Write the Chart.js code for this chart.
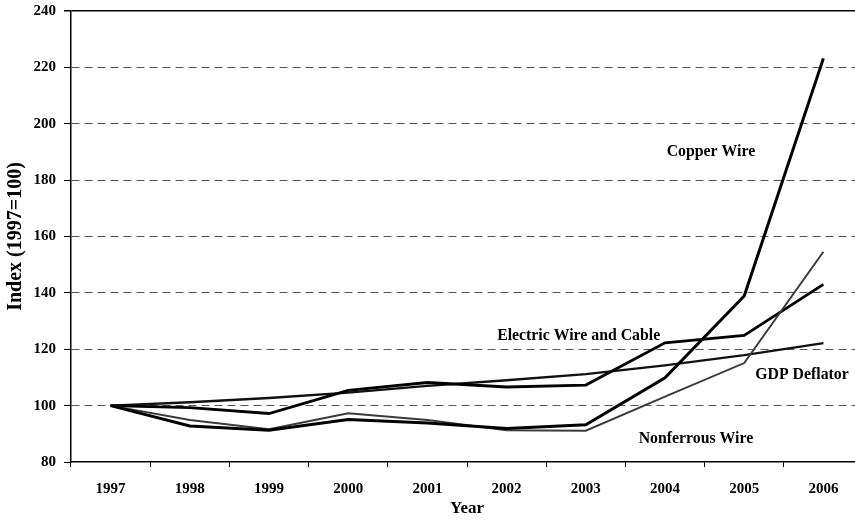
<!DOCTYPE html>
<html>
<head>
<meta charset="utf-8">
<script src="https://cdn.jsdelivr.net/npm/chart.js@4.4.0/dist/chart.umd.min.js"></script>
<style>
  html, body { margin: 0; padding: 0; background: #fff; overflow: hidden; }
  #wrap { position: absolute; left: 0; top: 0; width: 870px; height: 523px; }
</style>
</head>
<body>
<div id="wrap"><canvas id="chart"></canvas></div>
<script>
// Data
const years = ['1997', '1998', '1999', '2000', '2001', '2002', '2003', '2004', '2005', '2006'];
const copperWire = [100, 92.8, 91.3, 95.1, 93.8, 91.9, 93.2, 109.9, 138.9, 223.2];
const nonferrousWire = [100, 94.9, 91.6, 97.3, 94.9, 91.3, 91.1, 103.2, 115.1, 154.6];
const electricWire = [100, 99.3, 97.2, 105.4, 108.2, 106.6, 107.3, 122.3, 124.9, 143.0];
const gdpDeflator = [100, 101.2, 102.7, 104.6, 107.0, 109.0, 111.2, 114.3, 117.9, 122.2];
const yTicks = [80, 100, 120, 140, 160, 180, 200, 220, 240];

// series labels placed in data coordinates [category index, value]
const seriesLabels = [
    { text: 'Copper Wire', at: [7.58, 190] },
    { text: 'Electric Wire and Cable', at: [5.91, 124.7] },
    { text: 'GDP Deflator', at: [8.73, 110.9] },
    { text: 'Nonferrous Wire', at: [7.39, 88.2] }
];

const serif = "'Liberation Serif', 'Times New Roman', serif";

const labelPlugin = {
    id: 'seriesLabels',
    afterDatasetsDraw(chart) {
        const { ctx, scales: { x, y } } = chart;
        ctx.save();
        ctx.font = 'bold 15.8px ' + serif;
        ctx.fillStyle = '#000';
        ctx.textAlign = 'center';
        ctx.textBaseline = 'middle';
        seriesLabels.forEach(l => {
            ctx.fillText(l.text, x.getPixelForValue(l.at[0]), y.getPixelForValue(l.at[1]));
        });
        ctx.restore();
    }
};

const ctx = document.getElementById('chart').getContext('2d');
new Chart(ctx, {
    type: 'line',
    data: {
        labels: years,
        datasets: [{
            label: 'Copper Wire',
            data: copperWire,
            borderColor: '#000',
            borderWidth: 3
        }, {
            label: 'Nonferrous Wire',
            data: nonferrousWire,
            borderColor: '#3a3a3a',
            borderWidth: 2
        }, {
            label: 'Electric Wire and Cable',
            data: electricWire,
            borderColor: '#000',
            borderWidth: 2.8
        }, {
            label: 'GDP Deflator',
            data: gdpDeflator,
            borderColor: '#111',
            borderWidth: 2.3
        }]
    },
    options: {
        responsive: true,
        maintainAspectRatio: false,
        animation: false,
        elements: { point: { radius: 0 }, line: { tension: 0 } },
        layout: { padding: { top: 11, right: 7, left: 0, bottom: 0 } },
        plugins: {
            legend: { display: false },
            tooltip: { enabled: false }
        },
        scales: {
            x: {
                offset: true,
                grid: {
                    offset: true,
                    drawOnChartArea: false,
                    tickLength: 5,
                    tickColor: '#000'
                },
                border: { color: '#000', width: 1.5 },
                ticks: {
                    color: '#000',
                    font: { family: serif, weight: 'bold', size: 15 },
                    padding: 13,
                    maxRotation: 0
                },
                title: {
                    display: true,
                    text: 'Year',
                    color: '#000',
                    font: { family: serif, weight: 'bold', size: 17 },
                    padding: { top: 0, bottom: 4 }
                },
                afterFit: s => { s.height = 61; }
            },
            y: {
                min: 80,
                max: 240,
                afterBuildTicks: s => { s.ticks = yTicks.map(v => ({ value: v })); },
                grid: {
                    color: c => (c.tick && c.tick.value === 80) ? 'rgba(0,0,0,0)' : (c.tick && c.tick.value === 240 ? '#000' : '#555'),
                    lineWidth: c => (c.tick && c.tick.value === 240) ? 1.5 : 1,
                    tickLength: 7,
                    tickColor: '#000'
                },
                border: {
                    color: '#000',
                    width: 1.5,
                    dash: c => (c.tick && c.tick.value === 240) ? [] : [8, 5]
                },
                ticks: {
                    color: '#000',
                    font: { family: serif, weight: 'bold', size: 15 },
                    padding: 8
                },
                title: {
                    display: true,
                    text: 'Index (1997=100)',
                    color: '#000',
                    font: { family: serif, weight: 'bold', size: 20 },
                    padding: { top: 4, bottom: 0 }
                },
                afterFit: s => { s.width = 71; s.paddingTop = 0; s.paddingBottom = 0; }
            }
        }
    },
    plugins: [labelPlugin]
});
</script>
</body>
</html>
